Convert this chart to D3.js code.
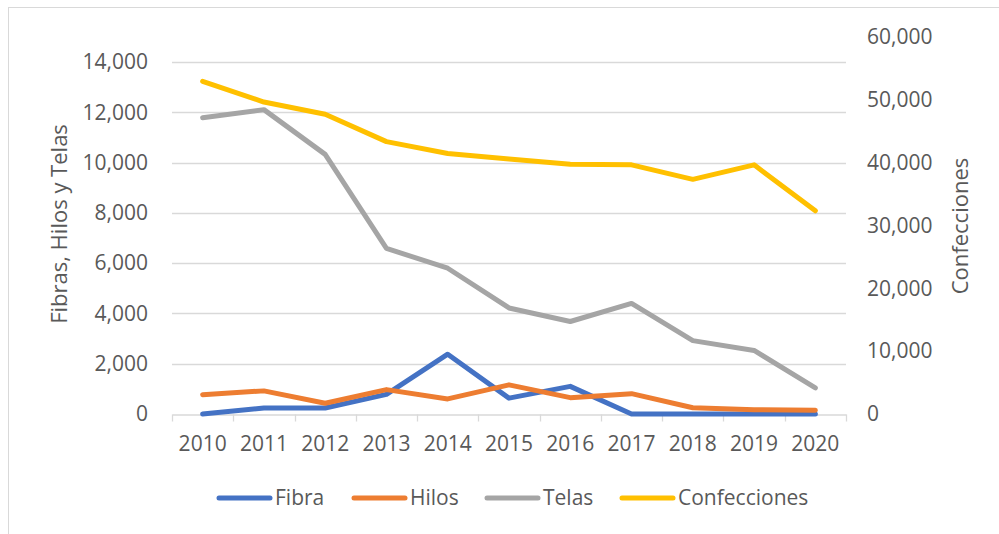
<!DOCTYPE html>
<html>
<head>
<meta charset="utf-8">
<script src="https://cdn.jsdelivr.net/npm/d3@7"></script>
<style>
  html, body { margin: 0; padding: 0; background: #fff; }
  svg { display: block; font-family: "Open Sans", sans-serif; }
</style>
</head>
<body>
<div id="chart"></div>
<script>
// ---- Data ----
const years = ['2010', '2011', '2012', '2013', '2014', '2015', '2016', '2017', '2018', '2019', '2020'];
const fibra = [0, 240, 240, 780, 2380, 630, 1100, 0, 0, 0, 0];
const hilos = [770, 920, 430, 970, 600, 1160, 650, 810, 250, 170, 150];
const telas = [11790, 12110, 10330, 6590, 5800, 4220, 3680, 4400, 2920, 2530, 1040];
const confecciones = [52950, 49650, 47700, 43350, 41450, 40600, 39750, 39650, 37350, 39650, 32350];
const leftTicks = [0, 2000, 4000, 6000, 8000, 10000, 12000, 14000];
const rightTicks = [0, 10000, 20000, 30000, 40000, 50000, 60000];

const W = 999, H = 534;
const plot = { left: 172, right: 846, top: 37, bottom: 414 };
const textColor = '#595959';
const gridColor = '#D9D9D9';

const svg = d3.select('#chart').append('svg')
  .attr('width', W).attr('height', H);

// chart border
svg.append('rect')
  .attr('x', 8.5).attr('y', 7.5)
  .attr('width', 1000).attr('height', 540)
  .attr('fill', 'none').attr('stroke', '#D9D9D9').attr('stroke-width', 1);

// ---- Scales ----
const x = d3.scaleBand().domain(years).range([plot.left, plot.right]);
const cx = d => x(d) + x.bandwidth() / 2;
const yL = d3.scaleLinear().domain([0, 15000]).range([plot.bottom, plot.top]);
const yR = d3.scaleLinear().domain([0, 60000]).range([plot.bottom, plot.top]);
const fmt = d3.format(',');

// ---- Grid ----
svg.append('g')
  .selectAll('line').data(leftTicks.filter(d => d > 0)).join('line')
  .attr('x1', plot.left).attr('x2', plot.right)
  .attr('y1', d => Math.round(yL(d)) + 0.5).attr('y2', d => Math.round(yL(d)) + 0.5)
  .attr('stroke', gridColor).attr('stroke-width', 1.3);

// ---- Axes ----
const gx = svg.append('g')
  .attr('transform', `translate(0,${Math.round(plot.bottom) + 0.5})`)
  .call(d3.axisBottom(x).tickSize(0).tickPadding(22))
  .call(g => g.select('.domain').attr('stroke', gridColor).attr('stroke-width', 1.3));
gx.selectAll('text').attr('font-size', '21px').attr('fill', textColor)
  .attr('font-family', '"Open Sans", sans-serif');
// tick marks at category boundaries
gx.append('g').selectAll('line')
  .data(years.map(d => x(d)).concat([plot.right])).join('line')
  .attr('x1', d => Math.round(d) + 0.5).attr('x2', d => Math.round(d) + 0.5)
  .attr('y1', 0).attr('y2', 7)
  .attr('stroke', gridColor).attr('stroke-width', 1.3);

const gl = svg.append('g')
  .attr('transform', `translate(${plot.left},0)`)
  .call(d3.axisLeft(yL).tickValues(leftTicks).tickSize(0).tickPadding(24).tickFormat(fmt))
  .call(g => g.select('.domain').remove());
gl.selectAll('text').attr('font-size', '21px').attr('fill', textColor)
  .attr('font-family', '"Open Sans", sans-serif');

const gr = svg.append('g')
  .attr('transform', `translate(${plot.right},0)`)
  .call(d3.axisRight(yR).tickValues(rightTicks).tickSize(0).tickPadding(21).tickFormat(fmt))
  .call(g => g.select('.domain').remove());
gr.selectAll('text').attr('font-size', '21px').attr('fill', textColor)
  .attr('font-family', '"Open Sans", sans-serif');

// ---- Axis titles ----
svg.append('text')
  .attr('transform', 'translate(67,224) rotate(-90)')
  .attr('text-anchor', 'middle')
  .attr('font-size', '22px').attr('fill', textColor)
  .text('Fibras, Hilos y Telas');

svg.append('text')
  .attr('transform', 'translate(968,226) rotate(-90)')
  .attr('text-anchor', 'middle')
  .attr('font-size', '22px').attr('fill', textColor)
  .text('Confecciones');

// ---- Lines ----
const series = [
  { name: 'Fibra', values: fibra, color: '#4472C4', y: yL },
  { name: 'Hilos', values: hilos, color: '#ED7D31', y: yL },
  { name: 'Telas', values: telas, color: '#A5A5A5', y: yL },
  { name: 'Confecciones', values: confecciones, color: '#FFC000', y: yR }
];

series.forEach(s => {
  const line = d3.line()
    .x((_, i) => cx(years[i]))
    .y(d => s.y(d));
  svg.append('path')
    .datum(s.values)
    .attr('d', line)
    .attr('fill', 'none')
    .attr('stroke', s.color)
    .attr('stroke-width', 5)
    .attr('stroke-linejoin', 'round')
    .attr('stroke-linecap', 'round');
});

// ---- Legend ----
const legendX = [217, 352, 485, 620];
const legend = svg.append('g');
series.forEach((s, i) => {
  const lx = legendX[i];
  legend.append('line')
    .attr('x1', lx + 2).attr('x2', lx + 53)
    .attr('y1', 498).attr('y2', 498)
    .attr('stroke', s.color).attr('stroke-width', 5)
    .attr('stroke-linecap', 'round');
  legend.append('text')
    .attr('x', lx + 58).attr('y', 498)
    .attr('dy', '0.35em')
    .attr('font-size', '21px').attr('fill', textColor)
    .text(s.name);
});
</script>
</body>
</html>
